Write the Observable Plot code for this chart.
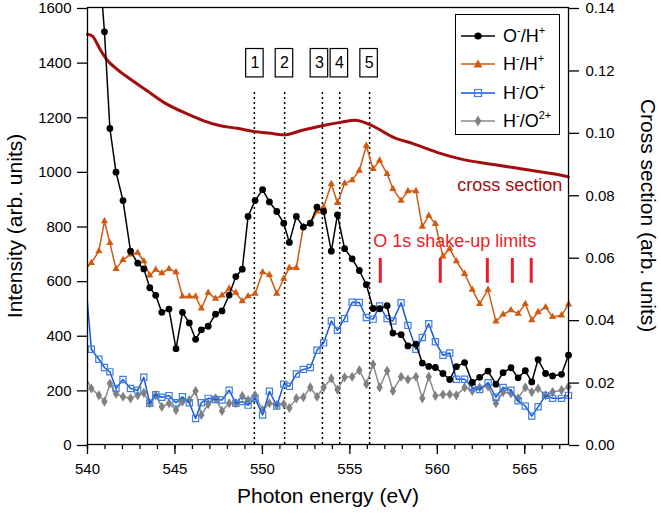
<!DOCTYPE html>
<html><head><meta charset="utf-8">
<script src="https://cdn.jsdelivr.net/npm/d3@7"></script>
<script src="https://cdn.jsdelivr.net/npm/@observablehq/plot@0.6"></script>
<style>
body{margin:0;background:#fff;font-family:Arial,"Liberation Sans",Helvetica,sans-serif;}
#wrap{position:relative;width:661px;height:515px;}
#legend{position:absolute;left:455px;top:14px;width:105px;height:121px;border:1.3px solid #000;background:#fff;box-sizing:border-box;}
.row{position:absolute;left:5px;height:24px;display:flex;align-items:center;font-size:18px;color:#000;white-space:nowrap;}
.row svg{margin-right:8px;}
.sp{font-size:11px;position:relative;top:-8px;}
</style>
</head><body>
<div id="wrap"><div id="chart"></div>
<div id="legend">
  <div class="row" style="top:9px"><svg width="34" height="24"><line x1="0" y1="12" x2="34" y2="12" stroke="#000" stroke-width="1.5"/><circle cx="17" cy="12" r="3.6" fill="#000"/></svg><span>O<span class="sp">-</span>/H<span class="sp">+</span></span></div>
  <div class="row" style="top:37px"><svg width="34" height="24"><line x1="0" y1="12" x2="34" y2="12" stroke="#d05a10" stroke-width="1.5"/><polygon points="17,7.5 21.5,15.5 12.5,15.5" fill="#d05a10"/></svg><span>H<span class="sp">-</span>/H<span class="sp">+</span></span></div>
  <div class="row" style="top:66px"><svg width="34" height="24"><line x1="0" y1="12" x2="34" y2="12" stroke="#1a56db" stroke-width="1.5"/><rect x="13.5" y="8.5" width="7" height="7" fill="none" stroke="#3f7fe0" stroke-width="1.2"/></svg><span>H<span class="sp">-</span>/O<span class="sp">+</span></span></div>
  <div class="row" style="top:94px"><svg width="34" height="24"><line x1="0" y1="12" x2="34" y2="12" stroke="#8a8a8a" stroke-width="1.5"/><polygon points="17,6.5 20.3,12 17,17.5 13.7,12" fill="#808080"/></svg><span>H<span class="sp">-</span>/O<span class="sp">2+</span></span></div>
</div>
</div>
<script>
// Photon energy grid (eV) shared by the four ion-pair series
const energy = [539.85, 540.22, 540.65, 540.97, 541.28, 541.63, 542.03, 542.46, 542.87, 543.22, 543.56, 543.90, 544.25, 544.66, 545.06, 545.43, 545.82, 546.18, 546.51, 546.90, 547.32, 547.69, 548.10, 548.48, 548.85, 549.18, 549.58, 550.01, 550.40, 550.82, 551.22, 551.54, 551.94, 552.34, 552.74, 553.12, 553.50, 553.94, 554.29, 554.70, 555.13, 555.54, 555.94, 556.33, 556.70, 557.13, 557.46, 557.93, 558.32, 558.78, 559.14, 559.51, 559.89, 560.32, 560.71, 561.09, 561.56, 562.00, 562.42, 562.90, 563.35, 563.76, 564.21, 564.62, 565.03, 565.40, 565.76, 566.19, 566.59, 567.10, 567.50];
const oMinusHPlus = [2900, 2400, 1780, 1511, 1157, 997, 893, 708, 664, 643, 574, 546, 484, 496, 351, 484, 445, 385, 420, 433, 477, 489, 547, 615, 642, 835, 893, 933, 888, 853, 810, 740, 835, 796, 810, 869, 853, 708, 841, 717, 680, 637, 585, 498, 497, 508, 408, 402, 361, 367, 298, 286, 282, 260, 238, 285, 300, 227, 246, 269, 221, 263, 281, 244, 270, 229, 311, 260, 251, 257, 327];
const hMinusHPlus = [640, 665, 708, 818, 738, 643, 676, 696, 702, 671, 619, 640, 627, 643, 631, 542, 542, 542, 498, 556, 534, 546, 571, 556, 525, 543, 552, 631, 621, 552, 607, 647, 647, 798, 808, 853, 869, 954, 885, 956, 968, 1003, 1094, 1009, 1040, 991, 936, 893, 928, 928, 798, 838, 808, 689, 717, 671, 625, 567, 515, 567, 451, 476, 492, 479, 515, 455, 485, 503, 467, 473, 513];
const hMinusOPlus = [630, 349, 312, 282, 266, 205, 238, 205, 199, 246, 151, 182, 173, 179, 153, 175, 153, 95, 153, 169, 165, 163, 199, 151, 157, 144, 169, 108, 195, 141, 221, 213, 258, 275, 282, 345, 372, 452, 418, 461, 521, 520, 465, 459, 507, 461, 452, 519, 436, 349, 392, 442, 376, 327, 335, 239, 239, 209, 201, 226, 173, 209, 199, 160, 141, 104, 138, 180, 169, 169, 180];
const hMinusO2Plus = [250, 205, 180, 157, 223, 186, 175, 169, 180, 189, 151, 180, 138, 151, 126, 157, 163, 196, 108, 148, 169, 123, 151, 151, 178, 163, 180, 126, 151, 144, 148, 134, 169, 173, 209, 175, 209, 242, 201, 246, 248, 272, 221, 294, 209, 270, 196, 248, 238, 248, 169, 248, 178, 183, 184, 180, 209, 196, 209, 213, 151, 192, 187, 169, 209, 192, 205, 180, 192, 199, 211];

// Cross section (right axis)
const csEnergy = [540.0, 540.27, 540.74, 541.13, 541.70, 542.46, 543.41, 544.36, 545.70, 546.65, 547.60, 548.55, 549.50, 550.46, 551.27, 552.17, 553.41, 554.46, 555.31, 556.17, 557.50, 558.65, 559.98, 561.31, 563.22, 565.13, 567.22, 567.49];
const csValue = [0.1314, 0.1309, 0.1264, 0.1231, 0.1202, 0.1170, 0.1133, 0.1096, 0.1059, 0.1037, 0.1021, 0.1013, 0.1003, 0.0997, 0.0992, 0.1005, 0.1021, 0.1032, 0.1039, 0.1024, 0.0984, 0.0963, 0.0936, 0.0915, 0.0897, 0.0880, 0.0861, 0.0858];

// Annotations
const markerLabels = ["1", "2", "3", "4", "5"];
const markerLines = [549.54, 551.27, 553.43, 554.42, 556.13];
const markerBoxes = [549.57, 551.26, 553.26, 554.40, 556.10];
const shakeUpLimits = [556.74, 560.17, 562.86, 564.29, 565.37];

// Axes
const xMajor = [540, 545, 550, 555, 560, 565];
const xMinor = d3.range(540, 568, 1);
const yLeftTicks = [0, 200, 400, 600, 800, 1000, 1200, 1400, 1600];
const yRightTicks = [0.00, 0.02, 0.04, 0.06, 0.08, 0.10, 0.12, 0.14];

const yMax = 1600, csMax = 0.14;
const toLeft = v => v / csMax * yMax;

const mk = vals => energy.map((e, i) => ({e, v: vals[i]}));
const black = mk(oMinusHPlus), orange = mk(hMinusHPlus), blue = mk(hMinusOPlus), gray = mk(hMinusO2Plus);
const cs = csEnergy.map((e, i) => ({e, v: toLeft(csValue[i])}));
const inView = d => d.e >= 540 && d.v <= yMax;

const tallDiamond = {
  draw(ctx, size) {
    const r = Math.sqrt(size / Math.PI);
    const w = r * 1.1, h = r * 1.75;
    ctx.moveTo(0, -h); ctx.lineTo(w, 0); ctx.lineTo(0, h); ctx.lineTo(-w, 0); ctx.closePath();
  }
};

const C = {black: "#000", orange: "#d05a10", blue: "#1a56db", blueM: "#3f7fe0", gray: "#8a8a8a", grayM: "#808080", cs: "#a30d0d", red: "#ee1c25"};
const boxes = markerLabels.map((l, i) => ({l, c: markerBoxes[i]}));

const chart = Plot.plot({
  width: 661, height: 515,
  marginLeft: 87, marginRight: 93, marginTop: 7, marginBottom: 71,
  style: {fontFamily: "Arial, 'Liberation Sans', Helvetica, sans-serif", fontSize: "15px", background: "white", color: "#000"},
  x: {domain: [540, 567.5]},
  y: {domain: [0, yMax]},
  marks: [
    Plot.ruleX(markerLines, {y1: 0, y2: 1295, stroke: "#000", strokeWidth: 1.5, strokeDasharray: "2,3"}),
    Plot.rect(boxes, {x1: d => d.c - 0.5, x2: d => d.c + 0.5, y1: 1344, y2: 1448, fill: "white", stroke: "#000", strokeWidth: 1.2}),
    Plot.text(boxes, {x: "c", y: 1396, text: "l", fontSize: 16, fill: "#000"}),
    Plot.line(cs, {x: "e", y: "v", stroke: C.cs, strokeWidth: 3, curve: "monotone-x"}),
    Plot.line(gray, {x: "e", y: "v", stroke: C.gray, strokeWidth: 1.5, clip: true}),
    Plot.dot(gray.filter(inView), {x: "e", y: "v", symbol: tallDiamond, r: 2.9, fill: C.grayM, stroke: "none"}),
    Plot.line(blue, {x: "e", y: "v", stroke: C.blue, strokeWidth: 1.5, clip: true}),
    Plot.dot(blue.filter(inView), {x: "e", y: "v", symbol: "square", r: 3.5, fill: "none", stroke: C.blueM, strokeWidth: 1.2}),
    Plot.line(orange, {x: "e", y: "v", stroke: C.orange, strokeWidth: 1.5, clip: true}),
    Plot.dot(orange.filter(inView), {x: "e", y: "v", symbol: "triangle", r: 2.7, fill: C.orange, stroke: "none"}),
    Plot.line(black, {x: "e", y: "v", stroke: C.black, strokeWidth: 1.5, clip: true}),
    Plot.dot(black.filter(inView), {x: "e", y: "v", r: 3.4, fill: C.black, stroke: "none"}),
    Plot.ruleX(shakeUpLimits, {y1: 590, y2: 681, stroke: C.red, strokeWidth: 3}),
    Plot.text(["O 1s shake-up limits"], {x: () => 556.33, y: () => 745, textAnchor: "start", fill: C.red, fontSize: 18}),
    Plot.text(["cross section"], {x: () => 567.15, y: () => 948, textAnchor: "end", fill: C.cs, fontSize: 18}),
    Plot.frame({stroke: "#000", strokeWidth: 1.3}),
    Plot.axisX({ticks: xMajor, tickSize: 10, tickPadding: 9, tickFormat: d => String(d), label: null, fontSize: 15, strokeWidth: 1.3}),
    Plot.axisX({ticks: xMinor, tickSize: 5, tickFormat: () => "", label: null, strokeWidth: 1.3}),
    Plot.axisY({ticks: yLeftTicks, anchor: "left", tickSize: 10, tickPadding: 6, tickFormat: d => String(d), label: null, fontSize: 15, strokeWidth: 1.3, dy: 1}),
    Plot.axisY({ticks: yRightTicks.map(toLeft), anchor: "right", tickSize: 10, tickPadding: 7, tickFormat: d => (d / yMax * csMax).toFixed(2), label: null, fontSize: 15, strokeWidth: 1.3, dy: 1}),
    Plot.text(["Intensity (arb. units)"], {frameAnchor: "left", textAnchor: "middle", lineAnchor: "middle", dx: -72, rotate: -90, fontSize: 21, fill: "#000"}),
    Plot.text(["Cross section (arb. units)"], {frameAnchor: "right", textAnchor: "middle", lineAnchor: "middle", y: () => 838, dx: 79, rotate: 90, fontSize: 21, fill: "#000"}),
    Plot.text(["Photon energy (eV)"], {frameAnchor: "bottom", textAnchor: "middle", lineAnchor: "middle", dy: 52, fontSize: 21, fill: "#000"})
  ]
});
document.getElementById("chart").appendChild(chart);
</script>
</body></html>
